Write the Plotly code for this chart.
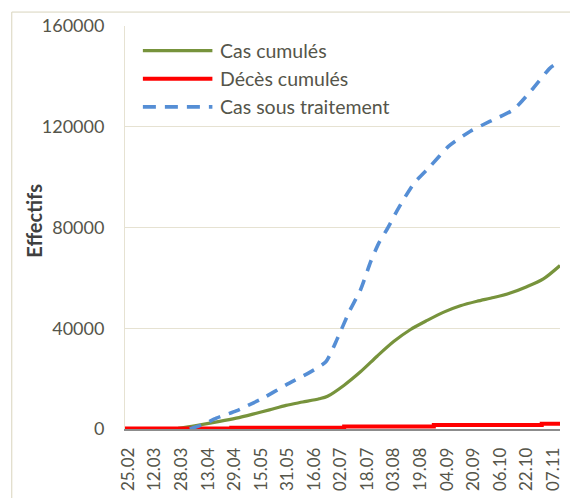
import plotly.graph_objects as go

# ---- data ----
tick_dates = ["2020-02-25", "2020-03-12", "2020-03-28", "2020-04-13", "2020-04-29",
              "2020-05-15", "2020-05-31", "2020-06-16", "2020-07-02", "2020-07-18",
              "2020-08-03", "2020-08-19", "2020-09-04", "2020-09-20", "2020-10-06",
              "2020-10-22", "2020-11-07"]
tick_labels = ["25.02", "12.03", "28.03", "13.04", "29.04", "15.05", "31.05", "16.06",
               "02.07", "18.07", "03.08", "19.08", "04.09", "20.09", "06.10", "22.10", "07.11"]

cas_dates = ["2020-03-26", "2020-04-05", "2020-04-20", "2020-04-30", "2020-05-10",
             "2020-05-20", "2020-05-30", "2020-06-09", "2020-06-19", "2020-06-24",
             "2020-07-04", "2020-07-14", "2020-07-24", "2020-08-03", "2020-08-13",
             "2020-08-23", "2020-09-02", "2020-09-12", "2020-09-22", "2020-10-02",
             "2020-10-12", "2020-10-22", "2020-11-01", "2020-11-11"]
cas_values = [300, 1300, 3000, 4300, 5900, 7600, 9400, 10700, 12000, 13000,
              17400, 22800, 29000, 34800, 39500, 43100, 46400, 48900, 50700, 52200,
              54000, 56500, 59600, 64900]

deces_dates = ["2020-02-23", "2020-04-27", "2020-07-04", "2020-08-27", "2020-10-31", "2020-11-11"]
deces_values = [150, 450, 1000, 1550, 2100, 2100]

trait_dates = ["2020-04-02", "2020-04-10", "2020-04-18", "2020-04-30", "2020-05-16",
               "2020-05-30", "2020-06-13", "2020-06-23", "2020-06-30", "2020-07-07",
               "2020-07-14", "2020-07-20", "2020-07-25", "2020-07-30", "2020-08-06",
               "2020-08-15", "2020-08-25", "2020-09-05", "2020-09-18", "2020-09-30",
               "2020-10-14", "2020-10-26", "2020-11-05", "2020-11-10"]
trait_values = [0, 1800, 4300, 7200, 12200, 17500, 22400, 26700, 36000, 46500,
                55500, 66500, 74000, 79500, 88000, 97500, 104400, 112300, 118200, 122200,
                126800, 135400, 143300, 145500]

series_names = ["Cas cumulés", "Décès cumulés", "Cas sous traitement"]
y_ticks = [0, 40000, 80000, 120000, 160000]
y_title = "Effectifs"

# ---- style ----
GREEN = "#77933c"
RED = "#ff0000"
BLUE = "#558ed5"
TXT = "#55554a"
GRID = "#e6e2d2"
FONT = "Lato"

fig = go.Figure()
fig.add_trace(go.Scatter(x=cas_dates, y=cas_values, mode="lines", name=series_names[0],
                         line=dict(color=GREEN, width=3.2, shape="spline", smoothing=0.8)))
fig.add_trace(go.Scatter(x=deces_dates, y=deces_values, mode="lines", name=series_names[1],
                         line=dict(color=RED, width=4, shape="hv")))
fig.add_trace(go.Scatter(x=trait_dates, y=trait_values, mode="lines", name=series_names[2],
                         line=dict(color=BLUE, width=3.6, dash="12px,9px",
                                   shape="spline", smoothing=0.6)))

L, R, T, B = 125, 7, 26, 67
W, H = 570, 498
pw, ph = W - L - R, H - T - B

def px(x):
    return (x - L) / pw

def py(y):
    return (H - B - y) / ph

shapes = [
    # outer chart border
    dict(type="rect", xref="paper", yref="paper", x0=px(11), x1=px(600), y0=py(530), y1=py(12),
         line=dict(color="#d9d4bd", width=1), layer="below"),
]
annotations = [
    dict(xref="paper", yref="paper", x=px(33), y=py(222), text="<b>" + y_title + "</b>",
         textangle=-90, showarrow=False, xanchor="center", yanchor="middle",
         font=dict(family=FONT, size=20, color="#3f3f3f")),
]
leg_y = [50.7, 79, 107.3]
leg_colors = [GREEN, RED, BLUE]
leg_dash = ["solid", "solid", "13px,9px"]
leg_w = [3.2, 4, 3.6]
for i in range(3):
    shapes.append(dict(type="line", xref="paper", yref="paper", x0=px(143), x1=px(213),
                       y0=py(leg_y[i]), y1=py(leg_y[i]),
                       line=dict(color=leg_colors[i], width=leg_w[i], dash=leg_dash[i])))
    annotations.append(dict(xref="paper", yref="paper", x=px(219), y=py(leg_y[i]),
                            text=series_names[i], showarrow=False, xanchor="left", yanchor="middle",
                            font=dict(family=FONT, size=19.5, color=TXT)))

fig.update_layout(
    width=W, height=H,
    margin=dict(l=L, r=R, t=T, b=B),
    paper_bgcolor="white", plot_bgcolor="white",
    showlegend=False,
    font=dict(family=FONT, size=18, color=TXT),
    shapes=shapes, annotations=annotations,
)
fig.update_xaxes(
    type="date", range=["2020-02-23", "2020-11-11"],
    tickmode="array", tickvals=tick_dates, ticktext=tick_labels,
    tickangle=-90, tickfont=dict(family=FONT, size=17, color=TXT),
    showgrid=False, showline=True, linecolor="#8c8c8c", linewidth=1.5,
    ticks="", ticklabelstandoff=10, zeroline=False,
)
fig.update_yaxes(
    range=[0, 160000], tickmode="array", tickvals=y_ticks,
    ticktext=[str(v) for v in y_ticks],
    tickfont=dict(family=FONT, size=18, color=TXT),
    showgrid=True, gridcolor=GRID, gridwidth=1,
    showline=True, linecolor=GRID, linewidth=1, mirror=False,
    zeroline=False, ticks="", ticklabelstandoff=16,
)

fig.write_html("out.html", config={"displayModeBar": False},
               post_script="document.body.style.margin='0';document.body.style.overflow='hidden';")
